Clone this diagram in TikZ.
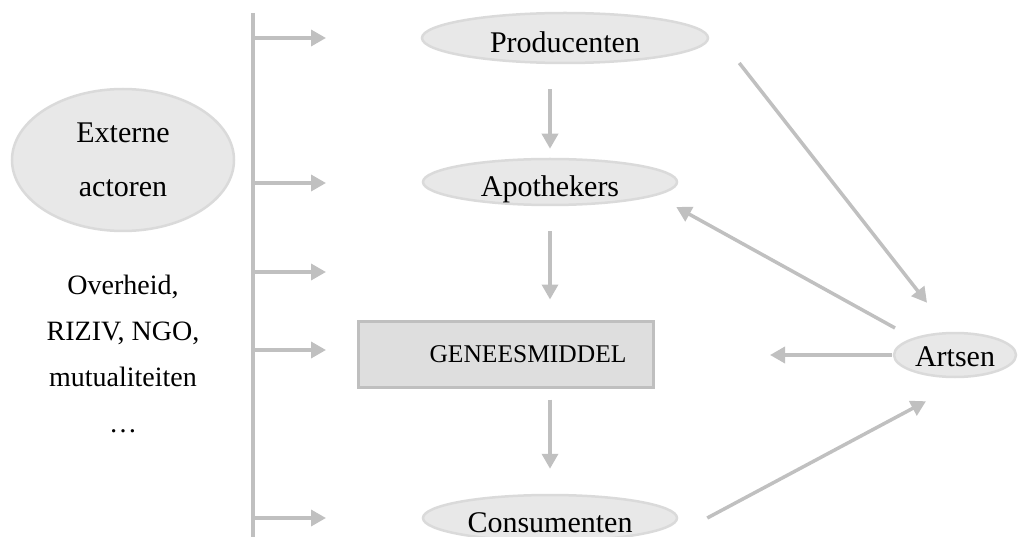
\documentclass[tikz,border=0pt]{standalone}
\usepackage{fontspec}
\setmainfont{Liberation Serif}
\usetikzlibrary{shapes.geometric,arrows.meta,calc}
\definecolor{arr}{HTML}{C0C0C0}
\definecolor{ellfill}{HTML}{E8E8E8}
\definecolor{elldraw}{HTML}{DADADA}
\definecolor{boxfill}{HTML}{DEDEDE}
\definecolor{boxdraw}{HTML}{BFBFBF}
\begin{document}
\begin{tikzpicture}[x=1pt,y=-1pt,
  ell/.style={ellipse, draw=elldraw, fill=ellfill, line width=2.5pt, inner sep=0pt, text height=28pt, text depth=0pt, font=\fontsize{30}{36}\selectfont},
  box/.style={rectangle, draw=boxdraw, fill=boxfill, line width=3pt, minimum width=295pt, minimum height=66pt, font=\fontsize{25.5}{30}\selectfont},
  conn/.style={draw=arr, line width=3.5pt, -{Triangle[length=15pt,width=16pt]}},
  busline/.style={draw=arr, line width=3.5pt},
  lbl/.style={align=center, font=\fontsize{28}{46}\selectfont}]
\useasboundingbox (0,0) rectangle (1019,537);

\node[ell, minimum width=286pt, minimum height=50pt, text height=30pt] (prod) at (565,38) {Producenten};
\node[ell, minimum width=254pt, minimum height=46pt, text height=30pt] (apo) at (550,182) {Apothekers};
\node[box] (gen) at (506,354) {\hspace*{44pt}GENEESMIDDEL};
\node[ell, minimum width=122pt, minimum height=44pt, text height=22pt] (art) at (955,355) {Artsen};
\node[ell, minimum width=254pt, minimum height=46pt] (con) at (550,518) {Consumenten};
\node[ellipse, draw=elldraw, fill=ellfill, line width=2.5pt, inner sep=0pt, minimum width=222pt, minimum height=142pt, align=center, font=\fontsize{30}{54}\selectfont] (ext) at (123,160) {Externe\\actoren};
\node[lbl] (others) at (123,354) {Overheid,\\RIZIV, NGO,\\mutualiteiten\\…};

% bus
\coordinate (bt) at (253,13);
\coordinate (bb) at (253,537);
\draw[busline] (bt) -- (bb);
\foreach \i/\y in {1/38,2/183,3/272,4/350,5/518}{
  \coordinate (b\i) at (253,\y);
  \coordinate (e\i) at (326,\y);
  \draw[conn] (b\i) -- (e\i);
}

% vertical flow
\draw[conn, shorten <=25pt, shorten >=9pt] (prod.south -| apo.north) -- (apo.north);
\draw[conn, shorten <=25pt, shorten >=20pt] (apo.south) -- (apo.south |- gen.north);
\draw[conn, shorten <=11pt, shorten >=25pt] (apo.south |- gen.south) -- (con.north);

% artsen
\draw[conn, shorten <=1pt, shorten >=115pt] (art.west) -- (art.west -| gen.east);
\draw[conn] ($(prod.east)+(30,25)$) -- ($(art.north)+(-28,-29)$);
\draw[conn] ($(art.center)+(-60,-27)$) -- ($(apo.east)+(-2,25)$);
\draw[conn] ($(con.east)+(29,0)$) -- ($(art.south)+(-29,23)$);
\end{tikzpicture}
\end{document}
